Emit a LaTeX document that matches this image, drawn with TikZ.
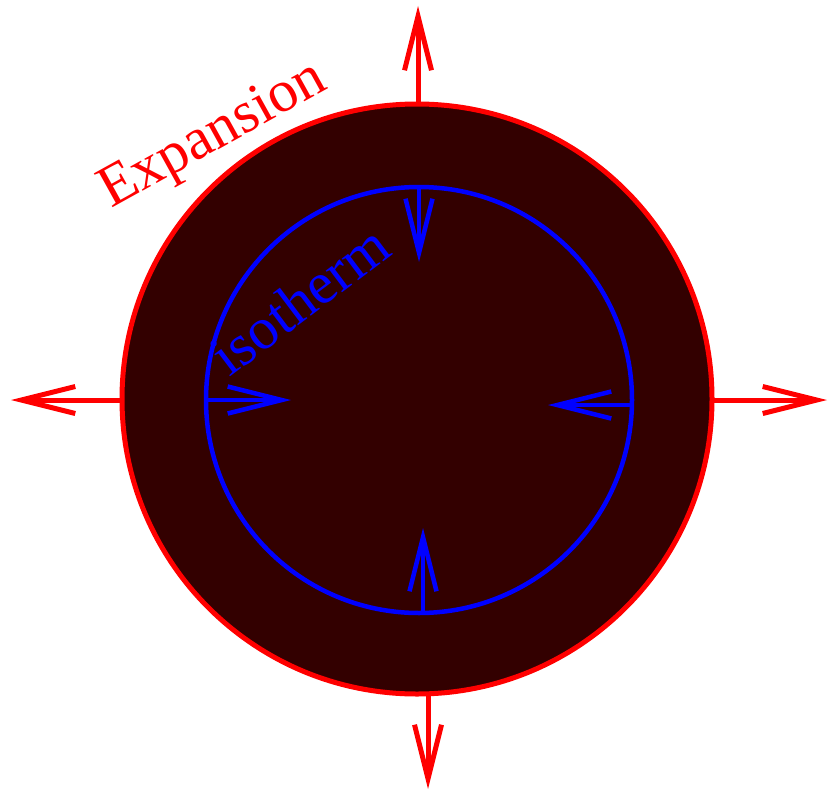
\documentclass[tikz,border=0pt]{standalone}
\usepackage{fontspec}
\setmainfont{Liberation Serif}
\usetikzlibrary{arrows.meta}
\definecolor{core}{RGB}{51,0,0}
\tikzset{
  redline/.style={draw=red, line width=5pt},
  blueline/.style={draw=blue, line width=4.5pt},
  redarrow/.style={red, line width=5pt, -{Straight Barb[length=54pt,width=27pt,line join=miter]}},
  bluearrow/.style={blue, line width=4.5pt, -{Straight Barb[length=54pt,width=27pt,line join=miter]}},
  lab/.style={anchor=base west, inner sep=0pt}
}
\begin{document}
\begin{tikzpicture}[x=1pt,y=-1pt]
\useasboundingbox (0,0) rectangle (829,792);
% outer body
\node[circle, minimum size=590pt, inner sep=0pt, fill=core, redline] (outer) at (417,399) {};
\node[circle, minimum size=426pt, inner sep=0pt, blueline] (inner) at (419,400) {};
% red expansion arrows
\coordinate (rt0) at (418,105); \coordinate (rt1) at (418,6);
\coordinate (rb0) at (428,693); \coordinate (rb1) at (428,789);
\coordinate (rl0) at (122,400); \coordinate (rl1) at (11,400);
\coordinate (rr0) at (712,400); \coordinate (rr1) at (827,400);
\draw[redarrow] (rt0) -- (rt1);
\draw[redarrow] (rb0) -- (rb1);
\draw[redarrow] (rl0) -- (rl1);
\draw[redarrow] (rr0) -- (rr1);
% blue isotherm arrows
\coordinate (bt0) at (419,187); \coordinate (bt1) at (419,262);
\coordinate (bb0) at (423,612); \coordinate (bb1) at (423,528);
\coordinate (bl0) at (206,400); \coordinate (bl1) at (291,400);
\coordinate (br0) at (632,405); \coordinate (br1) at (548,405);
\draw[bluearrow] (bt0) -- (bt1);
\draw[bluearrow] (bb0) -- (bb1);
\draw[bluearrow] (bl0) -- (bl1);
\draw[bluearrow] (br0) -- (br1);
% labels
\node[lab, text=red, rotate=29, font=\fontsize{59}{70}\selectfont] (exp) at (111,209) {Expansion};
\node[lab, text=blue, rotate=37, font=\fontsize{59}{70}\selectfont] (iso) at (229,378) {isotherm};
\end{tikzpicture}
\end{document}
